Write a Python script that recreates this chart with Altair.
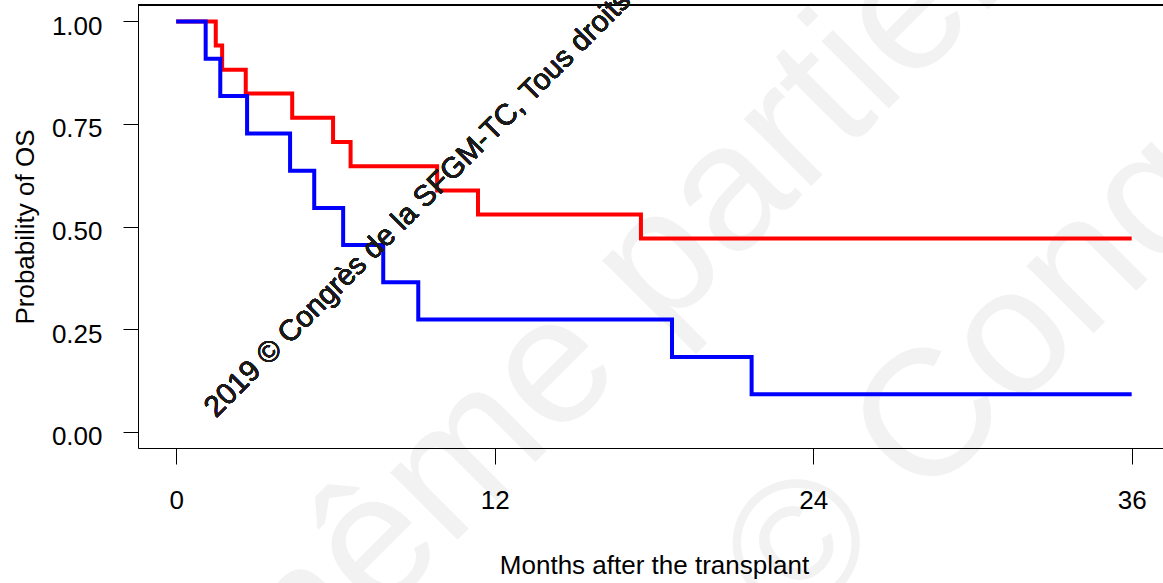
import altair as alt
import pandas as pd

# Kaplan-Meier step data
blue_months = [0, 1.11, 1.66, 2.67, 4.29, 5.20, 6.29, 7.80, 9.12, 18.68, 21.68, 36]
blue_surv = [1.0, 0.909, 0.818, 0.727, 0.636, 0.545, 0.455, 0.364, 0.273, 0.182, 0.091, 0.091]
red_months = [0, 1.49, 1.73, 2.62, 4.37, 5.91, 6.57, 9.83, 11.37, 17.51, 36]
red_surv = [1.0, 0.941, 0.882, 0.824, 0.765, 0.706, 0.647, 0.588, 0.529, 0.471, 0.471]

x_ticks = [0, 12, 24, 36]
y_ticks = [0, 0.25, 0.5, 0.75, 1.0]
x_domain = [-1.44, 37.18]
y_domain = [-0.04, 1.04]

x_title = "Months after the transplant"
y_title = "Probability of OS"

watermark_dark = "2019 © Congrès de la SFGM-TC, Tous droits réservés"
watermark_light = ["même partielle interdite", "© Congrès SFGM-TC"]
watermark_light_x = [2.17, 21.81]
watermark_light_y = [-0.623, -0.40]

FONT = "Liberation Sans, Arial, sans-serif"

blue_df = pd.DataFrame({"month": blue_months, "surv": blue_surv})
red_df = pd.DataFrame({"month": red_months, "surv": red_surv})
wm_df = pd.DataFrame({"text": watermark_light, "month": watermark_light_x, "surv": watermark_light_y})

xscale = alt.Scale(domain=x_domain, nice=False, zero=False)
yscale = alt.Scale(domain=y_domain, nice=False, zero=False)

xaxis = alt.Axis(
    values=x_ticks, format="d", grid=False, zindex=1,
    labelFont=FONT, labelFontSize=26, labelColor="black",
    labelBaseline="alphabetic", labelPadding=44, labelFlush=False, labelOverlap=False,
    tickSize=16, tickColor="black", tickWidth=1,
    domainColor="black", domainWidth=1,
    title=x_title, titleFont=FONT, titleFontSize=26, titleFontWeight="normal",
    titleColor="black", titleX=516, titleY=125, titleBaseline="alphabetic",
)
yaxis = alt.Axis(
    values=y_ticks, format=".2f", grid=False, zindex=1,
    labelFont=FONT, labelFontSize=26, labelColor="black",
    labelBaseline="alphabetic", labelOffset=13, labelPadding=21,
    labelFlush=False, labelOverlap=False,
    tickSize=15, tickColor="black", tickWidth=1,
    domainColor="black", domainWidth=1,
    title=y_title, titleFont=FONT, titleFontSize=26, titleFontWeight="normal",
    titleColor="black", titleX=-105, titleY=221.5, titleBaseline="alphabetic",
    titleAngle=270, titleAlign="center",
)

light = alt.Chart(wm_df).mark_text(
    angle=315, align="left", baseline="middle", fontSize=180,
    font=FONT, color="#f2f2f2",
).encode(
    x=alt.X("month:Q", scale=xscale, axis=xaxis),
    y=alt.Y("surv:Q", scale=yscale, axis=yaxis),
    text="text:N",
)

frame_top = alt.Chart(blue_df).mark_rule(color="black", strokeWidth=1).encode(
    x=alt.datum(x_domain[0]), x2=alt.datum(x_domain[1]), y=alt.datum(y_domain[1])
)

red_line = alt.Chart(red_df).mark_line(
    interpolate="step-after", color="#ff0000", strokeWidth=4
).encode(x=alt.X("month:Q", scale=xscale), y=alt.Y("surv:Q", scale=yscale))

blue_line = alt.Chart(blue_df).mark_line(
    interpolate="step-after", color="#0000ff", strokeWidth=4
).encode(x=alt.X("month:Q", scale=xscale), y=alt.Y("surv:Q", scale=yscale))

dark = alt.Chart(blue_df).mark_text(
    angle=315, align="left", baseline="alphabetic", fontSize=29.5,
    font=FONT, color="#1a1a1a",
).encode(
    x=alt.datum(1.50), y=alt.datum(0.032), text=alt.value(watermark_dark)
)

chart = alt.layer(light, frame_top, red_line, blue_line, dark).properties(
    width=1025, height=443,
    padding={"left": 138, "top": 5, "right": 0, "bottom": 135},
    autosize=alt.AutoSizeParams(type="none"),
    background="white",
).configure_view(stroke=None)

chart.save("out.html", embed_options={"renderer": "svg", "actions": False})
